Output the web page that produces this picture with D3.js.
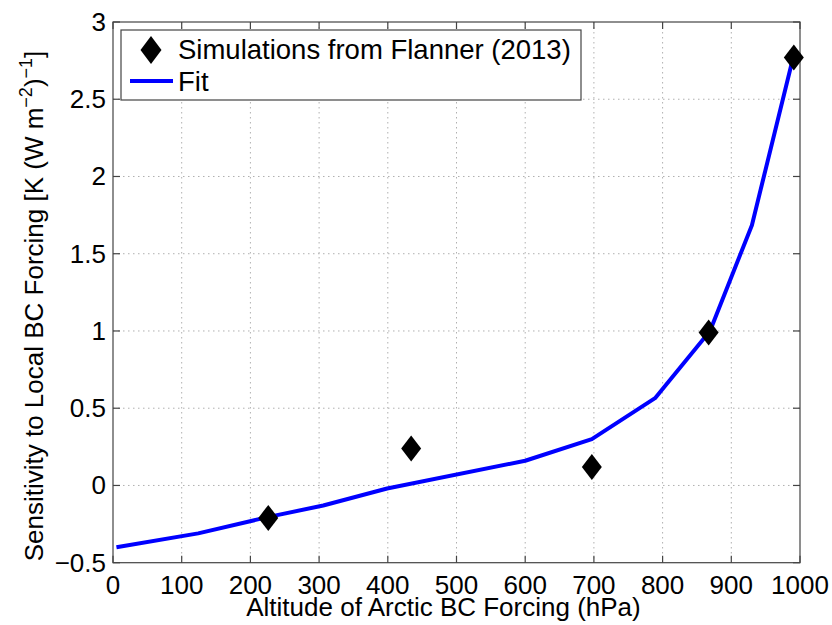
<!DOCTYPE html>
<html>
<head>
<meta charset="utf-8">
<script src="https://cdn.jsdelivr.net/npm/d3@7"></script>
<style>
body { margin: 0; background: #fff; }
svg { font-family: "Liberation Sans", Arial, sans-serif; }
.grid line { stroke: #b0b0b0; stroke-width: 1; stroke-dasharray: 1.5,3.5; }
.tick-label { font-size: 26px; fill: #000; }
.axis-label { font-size: 26px; fill: #000; }
.legend-label { font-size: 27.5px; fill: #000; }
</style>
</head>
<body>
<div id="chart"></div>
<script>
// simulations (diamonds)
var simAltitude = [226, 434, 697, 867, 991];
var simSensitivity = [-0.21, 0.24, 0.12, 0.99, 2.77];
// fitted curve
var fitAltitude = [5, 124, 225, 306, 399, 600, 697, 789, 869, 930, 990];
var fitSensitivity = [-0.40, -0.31, -0.205, -0.13, -0.02, 0.16, 0.30, 0.565, 1.0, 1.685, 2.77];
// ticks
var xTicks = [0, 100, 200, 300, 400, 500, 600, 700, 800, 900, 1000];
var yTicks = [-0.5, 0, 0.5, 1, 1.5, 2, 2.5, 3];

var width = 832, height = 625;
var plotLeft = 113, plotRight = 800, plotTop = 22, plotBottom = 562.7;

var svg = d3.select("#chart").append("svg")
	.attr("width", width)
	.attr("height", height);

var xScale = d3.scaleLinear().domain([0, 1000]).range([plotLeft, plotRight]);
var yScale = d3.scaleLinear().domain([-0.5, 3]).range([plotBottom, plotTop]);

// grid
var grid = svg.append("g").attr("class", "grid");
grid.selectAll("line.gx")
	.data(xTicks.slice(1, -1))
	.enter().append("line")
	.attr("class", "gx")
	.attr("x1", function(d){ return xScale(d); })
	.attr("x2", function(d){ return xScale(d); })
	.attr("y1", plotTop).attr("y2", plotBottom);
grid.selectAll("line.gy")
	.data(yTicks.slice(1, -1))
	.enter().append("line")
	.attr("class", "gy")
	.attr("y1", function(d){ return yScale(d); })
	.attr("y2", function(d){ return yScale(d); })
	.attr("x1", plotLeft).attr("x2", plotRight);

// box
svg.append("rect")
	.attr("x", plotLeft).attr("y", plotTop)
	.attr("width", plotRight - plotLeft).attr("height", plotBottom - plotTop)
	.attr("fill", "none").attr("stroke", "#444").attr("stroke-width", 1.2);

// inward ticks on all four sides
var tickLen = 7;
var ticks = svg.append("g").attr("stroke", "#444").attr("stroke-width", 1.2);
xTicks.forEach(function(d){
	ticks.append("line").attr("x1", xScale(d)).attr("x2", xScale(d)).attr("y1", plotBottom).attr("y2", plotBottom - tickLen);
	ticks.append("line").attr("x1", xScale(d)).attr("x2", xScale(d)).attr("y1", plotTop).attr("y2", plotTop + tickLen);
});
yTicks.forEach(function(d){
	ticks.append("line").attr("y1", yScale(d)).attr("y2", yScale(d)).attr("x1", plotLeft).attr("x2", plotLeft + tickLen);
	ticks.append("line").attr("y1", yScale(d)).attr("y2", yScale(d)).attr("x1", plotRight).attr("x2", plotRight - tickLen);
});

// tick labels
svg.selectAll("text.xt")
	.data(xTicks)
	.enter().append("text")
	.attr("class", "tick-label xt")
	.attr("x", function(d){ return xScale(d); })
	.attr("y", 594)
	.attr("text-anchor", "middle")
	.text(function(d){ return d; });

svg.selectAll("text.yt")
	.data(yTicks)
	.enter().append("text")
	.attr("class", "tick-label yt")
	.attr("x", 106)
	.attr("y", function(d){ return yScale(d) + 9; })
	.attr("text-anchor", "end")
	.text(function(d){ return d < 0 ? "\u2212" + Math.abs(d) : d; });

// axis labels
svg.append("text")
	.attr("class", "axis-label")
	.attr("x", xScale(500) - 13)
	.attr("y", 616)
	.attr("text-anchor", "middle")
	.text("Altitude of Arctic BC Forcing (hPa)");

var yl = svg.append("text")
	.attr("class", "axis-label")
	.attr("text-anchor", "middle")
	.attr("transform", "translate(43," + 306 + ") rotate(-90)");
yl.append("tspan").text("Sensitivity to Local BC Forcing [K (W m");
yl.append("tspan").attr("dy", -11).style("font-size", "18px").text("\u22122");
yl.append("tspan").attr("dy", 11).text(")");
yl.append("tspan").attr("dy", -11).style("font-size", "18px").text("\u22121");
yl.append("tspan").attr("dy", 11).text("]");

// fit line
var line = d3.line()
	.x(function(d, i){ return xScale(fitAltitude[i]); })
	.y(function(d){ return yScale(d); });
svg.append("path")
	.datum(fitSensitivity)
	.attr("d", line)
	.attr("fill", "none")
	.attr("stroke", "#0000ff")
	.attr("stroke-width", 4)
	.attr("stroke-linejoin", "round");

// diamonds
function diamond(w, h) {
	return "M0," + (-h/2) + "L" + (w/2) + ",0L0," + (h/2) + "L" + (-w/2) + ",0Z";
}
svg.selectAll("path.sim")
	.data(simSensitivity)
	.enter().append("path")
	.attr("class", "sim")
	.attr("transform", function(d, i){ return "translate(" + xScale(simAltitude[i]) + "," + yScale(d) + ")"; })
	.attr("d", diamond(20, 26))
	.attr("fill", "#000");

// legend
var lg = svg.append("g");
lg.append("rect")
	.attr("x", 121).attr("y", 30).attr("width", 460).attr("height", 70)
	.attr("fill", "#fff").attr("stroke", "#444").attr("stroke-width", 1.2);
lg.append("path")
	.attr("transform", "translate(151,50)")
	.attr("d", diamond(21, 28))
	.attr("fill", "#000");
lg.append("text").attr("class", "legend-label").attr("x", 178).attr("y", 59)
	.text("Simulations from Flanner (2013)");
lg.append("line")
	.attr("x1", 130).attr("x2", 173).attr("y1", 81).attr("y2", 81)
	.attr("stroke", "#0000ff").attr("stroke-width", 4);
lg.append("text").attr("class", "legend-label").attr("x", 178).attr("y", 91)
	.text("Fit");
</script>
</body>
</html>
